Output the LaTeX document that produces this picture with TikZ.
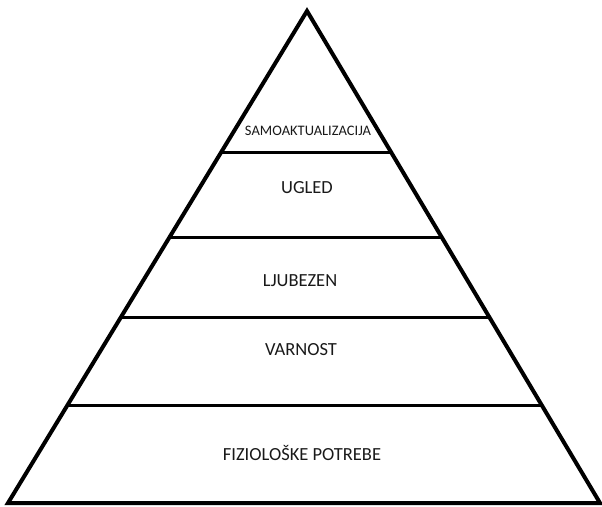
\documentclass[tikz,border=0pt]{standalone}
\usepackage{fontspec}
\setmainfont{Carlito}
\usetikzlibrary{calc}
\tikzset{
  pyrOutline/.style={line width=4pt, draw=black, line join=miter},
  pyrRule/.style={line width=3pt, draw=black},
  pyrText/.style={font=\fontsize{18.5}{20}\selectfont, text=black!90,
    inner sep=1pt, align=center},
  pyrSmall/.style={pyrText, font=\fontsize{14.5}{16}\selectfont}
}
\begin{document}
\begin{tikzpicture}[x=1pt, y=-1pt]
\path[use as bounding box] (0,0) rectangle (602,506);

% outline of the pyramid
\coordinate (apex) at (307,11);
\coordinate (bl) at (8,503);
\coordinate (br) at (600,503);
\draw[pyrOutline] (bl) -- (apex) -- (br) -- cycle;

% level rules, given as fraction of the height from the apex
\foreach \name/\t in {r1/0.287, r2/0.461, r3/0.622, r4/0.801}{
  \coordinate (\name l) at ($(apex)!\t!(bl)$);
  \coordinate (\name r) at ($(apex)!\t!(br)$);
  \draw[pyrRule] (\name l) -- (\name r);
}

\node[pyrSmall] (samo)  at (308,131) {SAMOAKTUALIZACIJA};
\node[pyrText]  (ugled) at (307,188) {UGLED};
\node[pyrText]  (ljub)  at (300,281) {LJUBEZEN};
\node[pyrText]  (varn)  at (301,350) {VARNOST};
\node[pyrText]  (fizio) at (302,453) {FIZIOLOŠKE POTREBE};
\end{tikzpicture}
\end{document}
